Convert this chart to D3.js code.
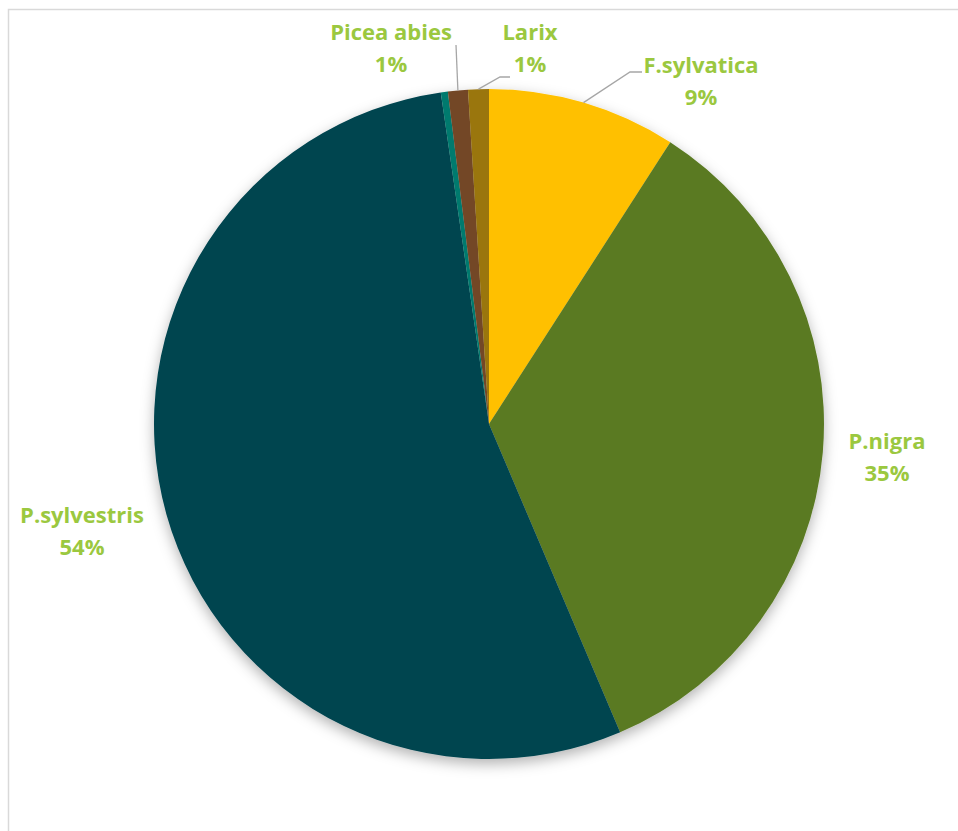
<!DOCTYPE html>
<html lang="en">
<head>
  <meta charset="UTF-8">
  <title>Species share</title>
  <style>
    body {
      margin: 0;
      padding: 0;
      background: #fff;
    }
    .slice-label {
      font-family: "Open Sans", Lato, sans-serif;
      font-weight: bold;
      font-size: 22px;
      fill: #9bc83f;
      text-anchor: middle;
    }
    .leader {
      fill: none;
      stroke: #a6a6a6;
      stroke-width: 1.3;
    }
  </style>
</head>
<body>
  <svg id="pie" width="958" height="831"></svg>

  <script src="https://d3js.org/d3.v7.min.js"></script>
  <script>
    // species, clockwise from 12 o'clock
    const species = ['F.sylvatica', 'P.nigra', 'P.sylvestris', 'Other', 'Picea abies', 'Larix'];
    const shares = [9.1, 34.5, 54.1, 0.34, 0.96, 1.0];
    const colors = ['#ffc000', '#5a7a23', '#00444f', '#007a6e', '#734726', '#9a7611'];
    const showLabel = [true, true, true, false, true, true];

    const data = species.map((name, i) => ({ name, value: shares[i], color: colors[i], label: showLabel[i] }));

    const svg = d3.select('#pie');
    const cx = 489, cy = 424, radius = 335;

    // chart frame
    svg.append('rect')
      .attr('x', 8.5)
      .attr('y', 9.5)
      .attr('width', 1000)
      .attr('height', 900)
      .attr('fill', 'none')
      .attr('stroke', '#d9d9d9')
      .attr('stroke-width', 1.5);

    const defs = svg.append('defs');
    const shadow = defs.append('filter')
      .attr('id', 'shadow')
      .attr('x', '-20%').attr('y', '-20%')
      .attr('width', '140%').attr('height', '140%');
    shadow.append('feDropShadow')
      .attr('dx', 0)
      .attr('dy', 5)
      .attr('stdDeviation', 7)
      .attr('flood-color', '#000')
      .attr('flood-opacity', 0.3);

    const pie = d3.pie().sort(null).value(d => d.value);
    const arcs = pie(data);
    const total = d3.sum(shares);

    const arc = d3.arc().innerRadius(0).outerRadius(radius);
    const edge = d3.arc().innerRadius(radius).outerRadius(radius);

    const g = svg.append('g').attr('transform', `translate(${cx},${cy})`);

    g.append('g')
      .attr('filter', 'url(#shadow)')
      .selectAll('path')
      .data(arcs)
      .enter()
      .append('path')
      .attr('d', arc)
      .attr('fill', d => d.data.color);

    // label placement (offset from pie centre) and leader elbows
    const labelPos = {
      'F.sylvatica': { x: 212, y: -351, leader: [[141, -352], [153, -352]] },
      'P.nigra': { x: 398, y: 25 },
      'P.sylvestris': { x: -407, y: 99 },
      'Picea abies': { x: -98, y: -384, leader: [[-33, -379]] },
      'Larix': { x: 41, y: -384, leader: [[11, -347], [21, -347]] }
    };

    const labelled = arcs.filter(d => d.data.label);

    labelled.forEach(d => {
      const p = labelPos[d.data.name];
      if (!p.leader) return;
      const start = edge.centroid(d);
      const pts = [start].concat(p.leader);
      g.append('path')
        .attr('class', 'leader')
        .attr('d', d3.line()(pts));
    });

    const labels = g.selectAll('.slice-label')
      .data(labelled)
      .enter()
      .append('text')
      .attr('class', 'slice-label')
      .attr('x', d => labelPos[d.data.name].x)
      .attr('y', d => labelPos[d.data.name].y);

    labels.append('tspan')
      .attr('x', d => labelPos[d.data.name].x)
      .text(d => d.data.name);

    labels.append('tspan')
      .attr('x', d => labelPos[d.data.name].x)
      .attr('dy', 32)
      .text(d => Math.round(d.data.value / total * 100) + '%');
  </script>
</body>
</html>
